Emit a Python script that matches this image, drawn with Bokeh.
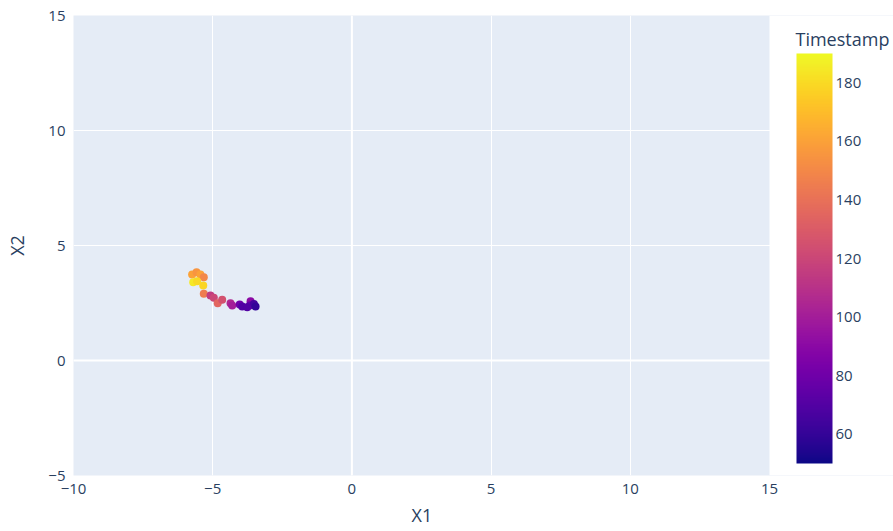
from bokeh.plotting import figure
from bokeh.models import (ColumnDataSource, LinearColorMapper, ColorBar, FixedTicker,
                          Span, Range1d, Label, BoxAnnotation, Title)
from bokeh.palettes import Plasma256
from bokeh.embed import file_html
from bokeh.resources import INLINE

# Embedding coordinates and the timestamp of each sample
x1 = [-5.74, -5.58, -5.44, -5.32, -5.70, -5.56, -5.34, -5.32, -5.08, -4.96, -4.82,
      -4.66, -4.36, -4.30, -4.03, -3.94, -3.64, -3.67, -3.52, -3.46, -3.76]
x2 = [3.74, 3.84, 3.74, 3.62, 3.40, 3.45, 3.26, 2.90, 2.83, 2.73, 2.49,
      2.64, 2.49, 2.39, 2.43, 2.35, 2.58, 2.39, 2.46, 2.35, 2.32]
timestamp = [160, 155, 160, 150, 185, 180, 178, 145, 115, 120, 135,
             125, 105, 100, 80, 70, 90, 75, 65, 60, 70]

x_ticks = [-10, -5, 0, 5, 10, 15]
y_ticks = [-5, 0, 5, 10, 15]
cbar_ticks = [60, 80, 100, 120, 140, 160, 180]

FONT = "Open Sans"
TXT = "#2a3f5f"
TICK_SIZE = "15px"
TITLE_SIZE = "18px"

X_MIN, X_MAX = -10, 15
Y_MIN, Y_MAX = -5, 15

W, H = 893, 531
LEFT, TOP, BOTTOM = 73, 15, 56
PLOT_W = 696                      # width of the shaded data area
px_per_unit = PLOT_W / (X_MAX - X_MIN)
# the frame runs to the page edge so the colour bar and its title live inside it
x_end = X_MAX + (W - LEFT - PLOT_W) / px_per_unit

src = ColumnDataSource(dict(x1=x1, x2=x2, t=timestamp))
mapper = LinearColorMapper(palette=Plasma256, low=50, high=190)

p = figure(width=W, height=H, output_backend="svg", toolbar_location=None,
           x_range=Range1d(X_MIN, x_end), y_range=Range1d(Y_MIN, Y_MAX),
           min_border_left=LEFT, min_border_top=TOP, min_border_bottom=BOTTOM,
           min_border_right=0)
p.background_fill_color = "#E5ECF6"
p.border_fill_color = "white"
p.outline_line_color = None

for ax in (p.xaxis[0], p.yaxis[0]):
    ax.axis_line_color = None
    ax.major_tick_line_color = None
    ax.minor_tick_line_color = None
    ax.major_label_text_font = FONT
    ax.major_label_text_font_size = TICK_SIZE
    ax.major_label_text_color = TXT
    ax.axis_label_text_font = FONT
    ax.axis_label_text_font_size = TITLE_SIZE
    ax.axis_label_text_color = TXT
    ax.axis_label_text_font_style = "normal"

p.xaxis.ticker = FixedTicker(ticks=x_ticks)
p.yaxis.ticker = FixedTicker(ticks=y_ticks)
p.xgrid.ticker = FixedTicker(ticks=[t for t in x_ticks if t < X_MAX])
p.xaxis.major_label_overrides = {t: str(t).replace("-", "\u2212") for t in x_ticks}
p.yaxis.major_label_overrides = {t: str(t).replace("-", "\u2212") for t in y_ticks}
p.yaxis.axis_label = "X2"
p.xaxis.major_label_standoff = 2
p.yaxis.major_label_standoff = 2
p.yaxis.axis_label_standoff = 16

for g in (p.xgrid[0], p.ygrid[0]):
    g.grid_line_color = "white"
    g.grid_line_width = 1

p.add_layout(Span(location=0, dimension="height", line_color="white", line_width=2))
p.add_layout(Span(location=0, dimension="width", line_color="white", line_width=2))

p.scatter("x1", "x2", source=src, size=8, line_color=None,
          fill_color={"field": "t", "transform": mapper})

# blank out the frame to the right of the data area
p.add_layout(BoxAnnotation(left=X_MAX, fill_color="white", fill_alpha=1.0,
                           line_color=None))

# x-axis title, centred under the data area
p.add_layout(Title(text="X1", align="left", offset=338,
                   text_font=FONT, text_font_size=TITLE_SIZE, text_color=TXT,
                   text_font_style="normal", standoff=9), "below")

# Colour bar right of the data area, with its title above it
cb = ColorBar(color_mapper=mapper, width=36, height=410,
              ticker=FixedTicker(ticks=cbar_ticks),
              major_label_text_font=FONT, major_label_text_font_size=TICK_SIZE,
              major_label_text_color=TXT, major_tick_line_color=None,
              bar_line_color=None, background_fill_color=None,
              border_line_color=None, padding=0, margin=0, label_standoff=3,
              location=(723, 12))
p.add_layout(cb, "center")

p.add_layout(Label(x=722, y=437, x_units="screen", y_units="screen",
                   text="Timestamp", text_font=FONT, text_font_size=TITLE_SIZE,
                   text_color=TXT, text_baseline="middle", text_align="left"))

open("out.html", "w").write(file_html(p, INLINE))
